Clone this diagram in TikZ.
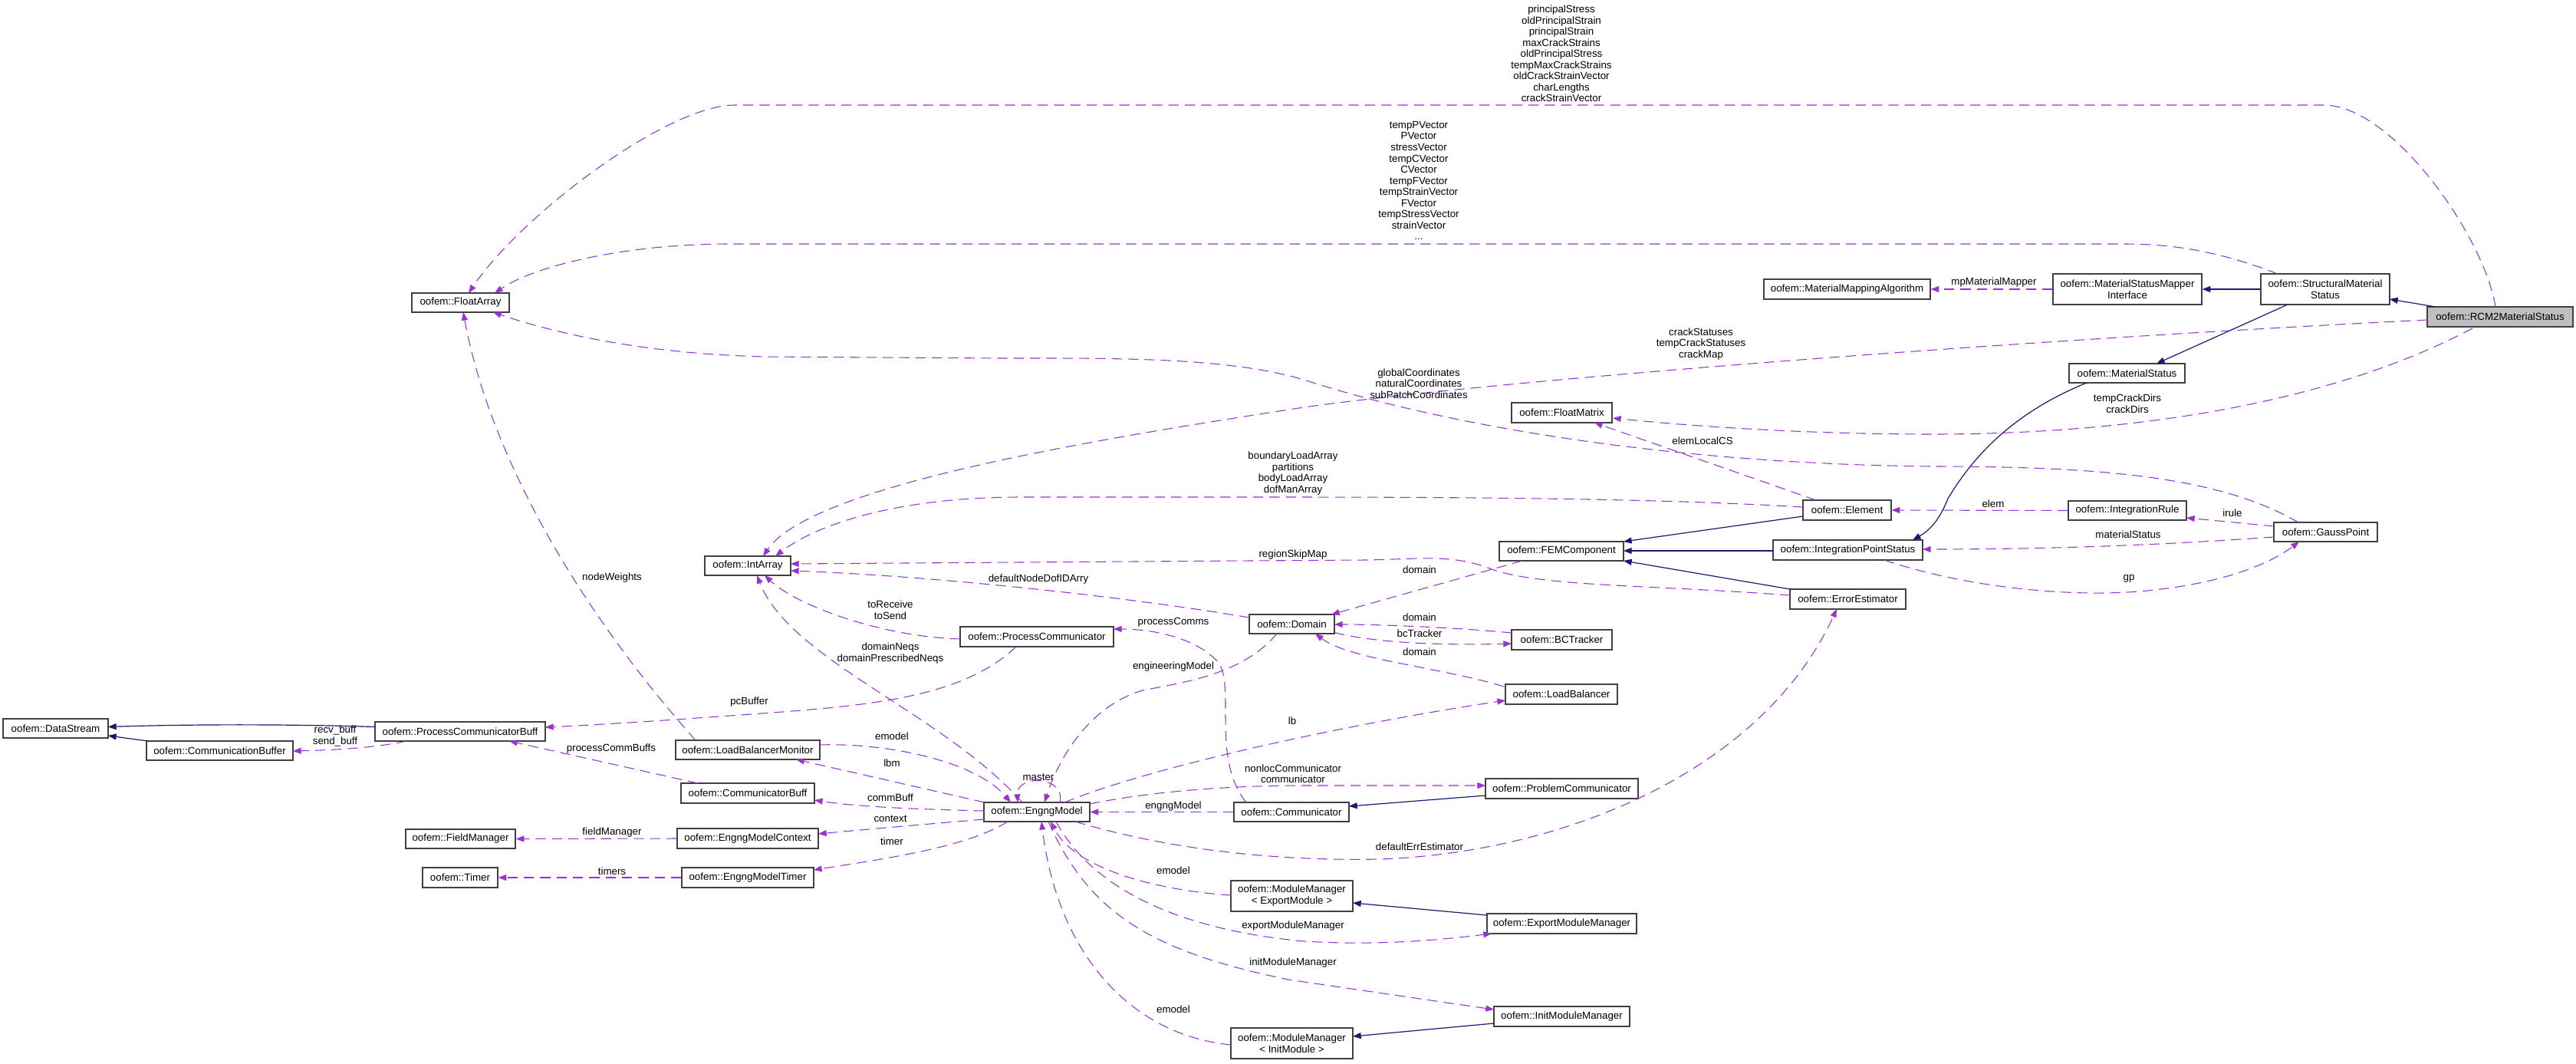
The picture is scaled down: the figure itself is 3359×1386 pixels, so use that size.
\documentclass[tikz,border=0pt]{standalone}
\usepackage{fontspec}
\setmainfont{Liberation Sans}
\usetikzlibrary{arrows.meta,calc}
\definecolor{usec}{HTML}{9A32CD}
\definecolor{inhc}{HTML}{191970}
\definecolor{boxc}{HTML}{404040}
\newcommand\nf{\fontsize{10}{11.25}\selectfont}
\newcommand\lf{\fontsize{10}{10.9}\selectfont}
\newcommand\cbox[6]{\node[cls,minimum width=#4*0.75pt,minimum height=#5*0.75pt] (#1) at (#2,#3) {#6};}
\tikzset{
  cls/.style={draw=boxc, line width=1pt, fill=white, inner sep=0pt, align=center, font=\nf},
  hcls/.style={fill=black!25},
  lbl/.style={font=\lf, align=center, inner sep=0pt},
  use/.style={draw=usec, line width=0.8pt, dash pattern=on 10pt off 6pt, -{Triangle[length=8pt,width=6pt]}, usec},
  inh/.style={draw=inhc, line width=0.9pt, -{Triangle[length=8pt,width=6pt]}, inhc}
}
\begin{document}
\begin{tikzpicture}[x=0.75pt,y=-0.75pt]
\useasboundingbox (0,0) rectangle (3359,1386);
% ---- class boxes ----
\cbox{fa}{600.5}{394.5}{127}{25}{oofem::FloatArray}
\cbox{mma}{2408.5}{377}{217}{26}{oofem::MaterialMappingAlgorithm}
\cbox{msmi}{2774}{377}{194}{40}{oofem::MaterialStatusMapper\\Interface}
\cbox{sms}{3032}{377}{168}{40}{oofem::StructuralMaterial\\Status}
\node[cls,fill=black!25,minimum width=190*0.75pt,minimum height=26*0.75pt] (rcm) at (3260,413) {oofem::RCM2MaterialStatus};
\cbox{ms}{2773.5}{486.5}{151}{25}{oofem::MaterialStatus}
\cbox{fm}{2036.5}{538}{131}{26}{oofem::FloatMatrix}
\cbox{el}{2408.5}{665}{115}{26}{oofem::Element}
\cbox{ir}{2774}{665.5}{154}{25}{oofem::IntegrationRule}
\cbox{fem}{2036}{718.5}{162}{25}{oofem::FEMComponent}
\cbox{ips}{2409.5}{717}{195}{26}{oofem::IntegrationPointStatus}
\cbox{gp}{3032.5}{693.5}{135}{25}{oofem::GaussPoint}
\cbox{ee}{2409.5}{781}{151}{26}{oofem::ErrorEstimator}
\cbox{ia}{975}{737.5}{112}{25}{oofem::IntArray}
\cbox{dom}{1684.5}{813.5}{111}{25}{oofem::Domain}
\cbox{bct}{2036.5}{834}{131}{26}{oofem::BCTracker}
\cbox{lb}{2036}{905}{146}{26}{oofem::LoadBalancer}
\cbox{pc}{1352}{830}{200}{26}{oofem::ProcessCommunicator}
\cbox{ds}{72.5}{949.5}{137}{25}{oofem::DataStream}
\cbox{pcb}{600}{953.5}{222}{25}{oofem::ProcessCommunicatorBuff}
\cbox{cb}{286.5}{978.5}{191}{25}{oofem::CommunicationBuffer}
\cbox{lbm}{975}{977.5}{188}{25}{oofem::LoadBalancerMonitor}
\cbox{cbuf}{975}{1034}{174}{26}{oofem::CommunicatorBuff}
\cbox{fmg}{600.5}{1093.5}{143}{25}{oofem::FieldManager}
\cbox{emc}{975}{1093}{184}{26}{oofem::EngngModelContext}
\cbox{tm}{600}{1144}{98}{26}{oofem::Timer}
\cbox{emt}{975}{1144}{172}{26}{oofem::EngngModelTimer}
\cbox{em}{1352}{1058.5}{138}{25}{oofem::EngngModel}
\cbox{com}{1684}{1058.5}{150}{25}{oofem::Communicator}
\cbox{prc}{2036.5}{1028}{199}{26}{oofem::ProblemCommunicator}
\cbox{mme}{1684.5}{1168}{159}{40}{oofem::ModuleManager\\< ExportModule >}
\cbox{emm}{2036.5}{1204}{195}{26}{oofem::ExportModuleManager}
\cbox{mmi}{1684.5}{1360}{159}{40}{oofem::ModuleManager\\< InitModule >}
\cbox{imm}{2036.5}{1325}{177}{26}{oofem::InitModuleManager}
% ---- inheritance ----
\draw[inh] ($(rcm)+(-84,-13)$) -- ($(sms)+(84,13)$);
\draw[inh] (sms.west) -- (msmi.east);
\draw[inh] ($(sms)+(-49,20)$) -- ($(ms)+(38.5,-12.5)$);
\draw[inh] ($(ms)+(-52.5,12.5)$) .. controls (2620,540) and (2570,600) .. (2540,650) .. controls (2528,680) and (2515,692) .. ($(ips)+(84.5,-13)$);
\draw[inh] ($(el)+(-57.5,8)$) -- ($(fem)+(81,-12.5)$);
\draw[inh] ($(ips)+(-97.5,1)$) -- ($(fem)+(81,-0.5)$);
\draw[inh] ($(ee)+(-75.5,-13)$) -- ($(fem)+(81,12.5)$);
\draw[inh] ($(pcb)+(-111,-6)$) .. controls (380,944) and (250,944) .. ($(ds)+(68.5,-2)$);
\draw[inh] ($(cb)+(-93.5,-12.5)$) -- ($(ds)+(68.5,9.5)$);
\draw[inh] ($(prc)+(-99.5,9)$) -- ($(com)+(75,-7.5)$);
\draw[inh] ($(emm)+(-97.5,-11)$) -- ($(mme)+(79.5,9)$);
\draw[inh] ($(imm)+(-88.5,9)$) -- ($(mmi)+(79.5,-9)$);
% ---- usage ----
\draw[use] ($(rcm)+(-6,-13)$) .. controls (3240,310) and (3120,137) .. (3030,137) -- (958,137) .. controls (870,137) and (680,280) .. ($(fa)+(10.5,-12.5)$);
\draw[use] ($(sms)+(-62,-20)$) .. controls (2900,330) and (2840,318) .. (2770,318) -- (950,318) .. controls (820,318) and (700,345) .. ($(fa)+(44.5,-12.5)$);
\draw[use] ($(rcm)+(-95,4)$) .. controls (2600,445) and (1900,500) .. (1680,534) .. controls (1450,570) and (1060,630) .. ($(ia)+(20,-12.5)$);
\draw[use] ($(rcm)+(-36,15)$) .. controls (3050,520) and (2800,566) .. (2520,566) .. controls (2350,566) and (2200,555) .. ($(fm)+(66.5,7)$);
\draw[use] (msmi.west) -- (mma.east);
\draw[use] ($(gp)+(-35.5,-12.5)$) .. controls (2900,625) and (2760,608) .. (2520,608) .. controls (2200,605) and (1900,560) .. (1700,495) .. controls (1600,465) and (1450,467) .. (1300,467) -- (1000,465) .. controls (860,462) and (740,440) .. ($(fa)+(42.5,12.5)$);
\draw[use] ($(el)+(-40.5,-13)$) -- ($(fm)+(42.5,13)$);
\draw[use] ($(el)+(-57.5,-4)$) .. controls (2200,652) and (2000,648) .. (1680,648) -- (1330,648) .. controls (1180,648) and (1070,680) .. ($(ia)+(36,-12.5)$);
\draw[use] (ir.west) -- (el.east);
\draw[use] ($(gp)+(-67.5,-7.5)$) -- ($(ir)+(77,9.5)$);
\draw[use] ($(gp)+(-67.5,6.5)$) .. controls (2800,712) and (2650,716) .. ($(ips)+(97.5,-1)$);
\draw[use] ($(ips)+(47.5,13)$) .. controls (2560,765) and (2700,780) .. (2800,770) .. controls (2900,760) and (2960,735) .. ($(gp)+(-34.5,12.5)$);
\draw[use] ($(ee)+(-75.5,-5)$) .. controls (2150,762) and (2000,765) .. (1940,740) .. controls (1890,722) and (1850,729) .. (1780,730) -- ($(ia)+(56,-2.5)$);
\draw[use] ($(fem)+(-51,12.5)$) -- ($(dom)+(51.5,-12.5)$);
\draw[use] ($(dom)+(-55.5,-8.5)$) .. controls (1450,775) and (1200,750) .. ($(ia)+(56,6.5)$);
\draw[use] ($(bct)+(-65.5,-9)$) .. controls (1900,818) and (1800,814) .. ($(dom)+(55.5,0.5)$);
\draw[use] ($(dom)+(55.5,11)$) .. controls (1800,840) and (1900,841) .. ($(bct)+(-65.5,5)$);
\draw[use] ($(lb)+(-75,-10)$) .. controls (1880,870) and (1760,860) .. ($(dom)+(30.5,12.5)$);
\draw[use] ($(pc)+(-100,3)$) .. controls (1150,830) and (1040,790) .. ($(ia)+(22,12.5)$);
\draw[use] ($(em)+(-19,-12.5)$) .. controls (1230,930) and (1030,860) .. ($(ia)+(12,12.5)$);
\draw[use] ($(com)+(-59,-12.5)$) .. controls (1580,990) and (1610,900) .. (1590,865) .. controls (1560,830) and (1500,820) .. ($(pc)+(100,-10)$);
\draw[use] ($(dom)+(-19.5,12.5)$) .. controls (1620,880) and (1540,890) .. (1490,900) .. controls (1420,920) and (1380,990) .. ($(em)+(10,-12.5)$);
\draw[use] ($(pc)+(-27,13)$) .. controls (1260,905) and (1150,918) .. (1020,928) .. controls (900,937) and (780,945) .. ($(pcb)+(111,-5.5)$);
\draw[use] ($(lbm)+(-68,-12.5)$) .. controls (760,800) and (640,600) .. ($(fa)+(3.5,12.5)$);
\draw[use] ($(pcb)+(-70,12.5)$) .. controls (490,975) and (430,978) .. ($(cb)+(95.5,0.5)$);
\draw[use] ($(cbuf)+(-65,-13)$) -- ($(pcb)+(64,12.5)$);
\draw[use] (emc.west) -- (fmg.east);
\draw[use] (emt.west) -- (tm.east);
\draw[use] ($(lbm)+(94,-6.5)$) .. controls (1150,968) and (1270,990) .. ($(em)+(-34,-12.5)$);
\draw[use] ($(em)+(-68,-12.5)$) -- ($(lbm)+(63,12.5)$);
\draw[use] ($(em)+(-69,-1.5)$) .. controls (1200,1055) and (1120,1052) .. ($(cbuf)+(87,9)$);
\draw[use] ($(em)+(-69,9.5)$) .. controls (1200,1075) and (1120,1082) .. ($(emc)+(92,-6)$);
\draw[use] ($(em)+(-38,12.5)$) .. controls (1260,1105) and (1150,1120) .. ($(emt)+(86,-10)$);
\draw[use] ($(em)+(30,-12.5)$) .. controls (1390,1010) and (1325,1010) .. ($(em)+(-25,-12.5)$);
\draw[use] (com.west) -- (em.east);
\draw[use] ($(em)+(36,-12.5)$) .. controls (1500,1000) and (1750,945) .. ($(lb)+(-73,8)$);
\draw[use] ($(em)+(69,-10.5)$) .. controls (1500,1032) and (1600,1024) .. (1700,1024) -- ($(prc)+(-99.5,-4)$);
\draw[use] ($(em)+(50,12.5)$) .. controls (1550,1115) and (1700,1122) .. (1800,1120) .. controls (2050,1110) and (2300,1000) .. ($(ee)+(-14.5,13)$);
\draw[use] ($(mme)+(-79.5,-1)$) .. controls (1500,1160) and (1400,1130) .. ($(em)+(18,12.5)$);
\draw[use] ($(em)+(25,12.5)$) .. controls (1420,1150) and (1520,1210) .. (1700,1227) .. controls (1800,1233) and (1880,1225) .. ($(emm)+(-91.5,13)$);
\draw[use] ($(em)+(15,12.5)$) .. controls (1420,1190) and (1500,1240) .. (1680,1277) -- ($(imm)+(-88.5,-9)$);
\draw[use] ($(mmi)+(-79.5,2)$) .. controls (1480,1350) and (1380,1250) .. ($(em)+(6,12.5)$);
% ---- labels ----
\node[lbl] (l1) at (2036,70) {principalStress\\oldPrincipalStrain\\principalStrain\\maxCrackStrains\\oldPrincipalStress\\tempMaxCrackStrains\\oldCrackStrainVector\\charLengths\\crackStrainVector};
\node[lbl] (l2) at (1850,235.5) {tempPVector\\PVector\\stressVector\\tempCVector\\CVector\\tempFVector\\tempStrainVector\\FVector\\tempStressVector\\strainVector\\...};
\node[lbl] (l3) at (2218,448.5) {crackStatuses\\tempCrackStatuses\\crackMap};
\node[lbl] (l4) at (2774,526) {tempCrackDirs\\crackDirs};
\node[lbl] (l5) at (2600,368) {mpMaterialMapper};
\node[lbl] (l6) at (1850,500) {globalCoordinates\\naturalCoordinates\\subPatchCoordinates};
\node[lbl] (l7) at (2220,575) {elemLocalCS};
\node[lbl] (l8) at (1686,617) {boundaryLoadArray\\partitions\\bodyLoadArray\\dofManArray};
\node[lbl] (l9) at (2599,657) {elem};
\node[lbl] (l10) at (2911,669) {irule};
\node[lbl] (l11) at (2775,697) {materialStatus};
\node[lbl] (l12) at (2776,754) {gp};
\node[lbl] (l13) at (1686,723) {regionSkipMap};
\node[lbl] (l14) at (1851,743) {domain};
\node[lbl] (l15) at (1354,755) {defaultNodeDofIDArry};
\node[lbl] (l16) at (1851,805) {domain};
\node[lbl] (l17) at (1851,826) {bcTracker};
\node[lbl] (l18) at (1851,850) {domain};
\node[lbl] (l19) at (1161,795) {toReceive\\toSend};
\node[lbl] (l20) at (1161,851.5) {domainNeqs\\domainPrescribedNeqs};
\node[lbl] (l21) at (1530,811) {processComms};
\node[lbl] (l22) at (1530,869) {engineeringModel};
\node[lbl] (l23) at (977,915) {pcBuffer};
\node[lbl] (l24) at (798,753) {nodeWeights};
\node[lbl] (l25) at (437,959.5) {recv\_buff\\send\_buff};
\node[lbl] (l26) at (797,976) {processCommBuffs};
\node[lbl] (l27) at (798,1085) {fieldManager};
\node[lbl] (l28) at (798,1136) {timers};
\node[lbl] (l29) at (1163,960) {emodel};
\node[lbl] (l30) at (1163,995) {lbm};
\node[lbl] (l31) at (1161,1040) {commBuff};
\node[lbl] (l32) at (1161,1067) {context};
\node[lbl] (l33) at (1163,1097) {timer};
\node[lbl] (l34) at (1354,1013) {master};
\node[lbl] (l35) at (1530,1051) {engngModel};
\node[lbl] (l36) at (1685,940) {lb};
\node[lbl] (l37) at (1686,1008.5) {nonlocCommunicator\\communicator};
\node[lbl] (l38) at (1851,1104) {defaultErrEstimator};
\node[lbl] (l39) at (1530,1135) {emodel};
\node[lbl] (l40) at (1686,1207) {exportModuleManager};
\node[lbl] (l41) at (1686,1255) {initModuleManager};
\node[lbl] (l42) at (1530,1316) {emodel};
\end{tikzpicture}
\end{document}
